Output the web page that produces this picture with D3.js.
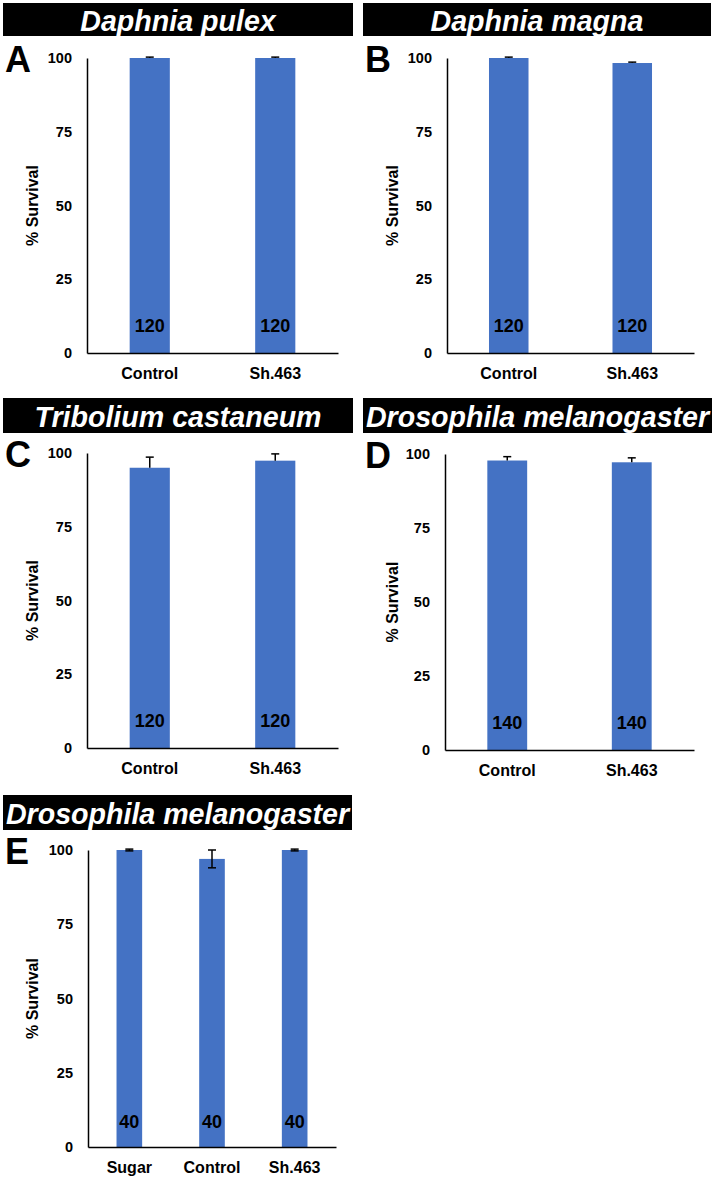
<!DOCTYPE html>
<html>
<head>
<meta charset="utf-8">
<script src="https://cdn.jsdelivr.net/npm/d3@7"></script>
<style>
  body { margin: 0; background: #fff; }
  svg { display: block; }
  text { font-family: "Liberation Sans", Arial, sans-serif; font-weight: bold; }
</style>
</head>
<body>
<svg id="chart" width="714" height="1184"></svg>
<script>
// ---- data ----
const titles = ["Daphnia pulex", "Daphnia magna", "Tribolium castaneum", "Drosophila melanogaster", "Drosophila melanogaster"];
const panelLetters = ["A", "B", "C", "D", "E"];
const yTicks = [0, 25, 50, 75, 100];
const catsA = ["Control", "Sh.463"];
const valsA = [100, 100];
const errA = [0.3, 0.3];
const nA = [120, 120];
const catsB = ["Control", "Sh.463"];
const valsB = [100, 98.3];
const errB = [0.3, 0.3];
const nB = [120, 120];
const catsC = ["Control", "Sh.463"];
const valsC = [95, 97.4];
const errC = [3.6, 2.3];
const nC = [120, 120];
const catsD = ["Control", "Sh.463"];
const valsD = [97.8, 97.2];
const errD = [1.3, 1.5];
const nD = [140, 140];
const catsE = ["Sugar", "Control", "Sh.463"];
const valsE = [100, 97, 100];
const errE = [0.3, 3, 0.3];
const nE = [40, 40, 40];

const panels = [
  {cats: catsA, vals: valsA, err: errA, n: nA, both: false, box: [3, 3, 350, 33], x0: 87, x1: 338, yTop: 58, yBot: 353, pad: 0.68, nOff: 21},
  {cats: catsB, vals: valsB, err: errB, n: nB, both: false, box: [363, 3, 348, 33], x0: 447, x1: 694, yTop: 58, yBot: 353, pad: 0.68, nOff: 21},
  {cats: catsC, vals: valsC, err: errC, n: nC, both: false, box: [3, 398, 350, 35], x0: 87, x1: 338, yTop: 453, yBot: 748, pad: 0.68, nOff: 21},
  {cats: catsD, vals: valsD, err: errD, n: nD, both: false, box: [363, 398, 349, 35], x0: 445, x1: 694, yTop: 454, yBot: 750, pad: 0.68, nOff: 21},
  {cats: catsE, vals: valsE, err: errE, n: nE, both: true, box: [3, 795, 349, 35], x0: 88, x1: 336, yTop: 850, yBot: 1147, pad: 0.69, nOff: 19}
];

const svg = d3.select("#chart");
const barColor = "#4472C4";

panels.forEach((p, i) => {
  const g = svg.append("g");
  // title box
  g.append("rect").attr("x", p.box[0]).attr("y", p.box[1]).attr("width", p.box[2]).attr("height", p.box[3]).attr("fill", "#000");
  g.append("text")
    .attr("x", p.box[0] + p.box[2] / 2)
    .attr("y", p.box[1] + p.box[3] / 2 + 1)
    .attr("text-anchor", "middle")
    .attr("dominant-baseline", "central")
    .attr("fill", "#fff")
    .attr("font-style", "italic")
    .attr("font-size", 28.6)
    .text(titles[i]);
  // panel letter
  g.append("text")
    .attr("x", p.box[0] + 2)
    .attr("y", p.yTop + 14)
    .attr("font-size", 36)
    .attr("fill", "#000")
    .text(panelLetters[i]);

  const x = d3.scaleBand().domain(p.cats).range([p.x0, p.x1]).paddingInner(p.pad).paddingOuter(p.pad / 2);
  const y = d3.scaleLinear().domain([0, 100]).range([p.yBot, p.yTop]);

  // y axis
  const yAxis = d3.axisLeft(y).tickValues(yTicks).tickSize(0).tickPadding(15);
  const ya = g.append("g").attr("transform", `translate(${p.x0},0)`).call(yAxis);
  ya.select(".domain").attr("stroke", "#000").attr("stroke-width", 1.5);
  ya.selectAll("text").attr("font-size", 14.5).attr("fill", "#000").attr("font-family", "Liberation Sans, Arial, sans-serif").attr("font-weight", "bold");

  // y label
  g.append("text")
    .attr("transform", `translate(${p.box[0] + 35},${(p.yTop + p.yBot) / 2}) rotate(-90)`)
    .attr("text-anchor", "middle")
    .attr("font-size", 16)
    .text("% Survival");

  // bars
  g.selectAll("rect.bar").data(p.cats).enter().append("rect")
    .attr("class", "bar")
    .attr("x", d => x(d))
    .attr("width", x.bandwidth())
    .attr("y", (d, j) => y(p.vals[j]))
    .attr("height", (d, j) => p.yBot - y(p.vals[j]))
    .attr("fill", barColor);

  // error bars
  p.cats.forEach((c, j) => {
    const cx = x(c) + x.bandwidth() / 2;
    const top = y(p.vals[j] + p.err[j]);
    const bot = p.both ? y(p.vals[j] - p.err[j]) : y(p.vals[j]);
    g.append("line").attr("x1", cx).attr("x2", cx).attr("y1", top).attr("y2", bot).attr("stroke", "#000").attr("stroke-width", 1.5);
    g.append("line").attr("x1", cx - 4).attr("x2", cx + 4).attr("y1", top).attr("y2", top).attr("stroke", "#000").attr("stroke-width", 1.5);
    if (p.both) {
      g.append("line").attr("x1", cx - 4).attr("x2", cx + 4).attr("y1", bot).attr("y2", bot).attr("stroke", "#000").attr("stroke-width", 1.5);
    }
    // n labels
    g.append("text")
      .attr("x", cx)
      .attr("y", p.yBot - p.nOff)
      .attr("text-anchor", "middle")
      .attr("font-size", 18)
      .attr("fill", "#000")
      .text(p.n[j]);
  });

  // x axis
  const xAxis = d3.axisBottom(x).tickSize(0).tickPadding(15);
  const xa = g.append("g").attr("transform", `translate(0,${p.yBot})`).call(xAxis);
  xa.select(".domain").attr("stroke", "#000").attr("stroke-width", 1.5);
  xa.selectAll("text").attr("font-size", 16).attr("fill", "#000").attr("font-family", "Liberation Sans, Arial, sans-serif").attr("font-weight", "bold");
});
</script>
</body>
</html>
